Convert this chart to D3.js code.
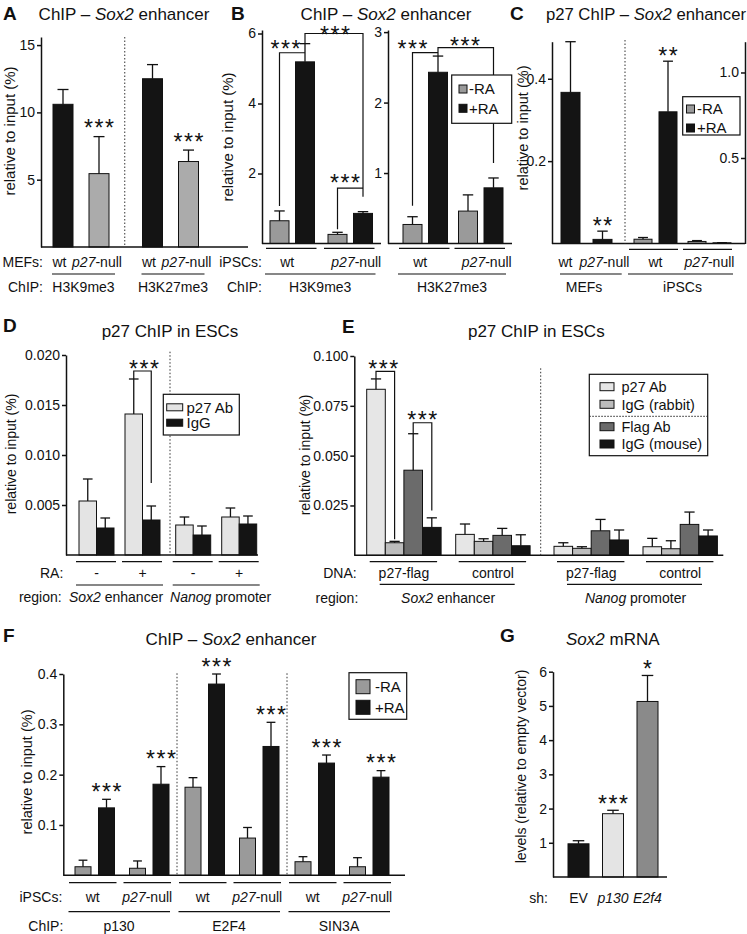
<!DOCTYPE html>
<html><head><meta charset="utf-8">
<script src="https://cdnjs.cloudflare.com/ajax/libs/d3/7.8.5/d3.min.js"></script>
<style>body{margin:0;background:#fff}</style>
</head><body>
<script>
// ================= DATA =================
// Panel A
const aGroups = ["H3K9me3", "H3K27me3"];
const aCells = ["wt", "p27-null"];
const aMean = [[10.6, 5.45], [12.5, 6.35]];
const aSD = [[1.1, 2.75], [1.05, 0.85]];
const aStars = [["", "***"], ["", "***"]];
const aTicks = [5, 10, 15];
// Panel B
const bChIP = ["H3K9me3", "H3K27me3"];
const bCells = ["wt", "p27-null"];
const bSeries = ["-RA", "+RA"];
const bK9Mean = [[0.65, 5.19], [0.26, 0.86]];
const bK9SD = [[0.28, 0.52], [0.06, 0.05]];
const bK27Mean = [[0.27, 2.43], [0.46, 0.79]];
const bK27SD = [[0.11, 0.23], [0.23, 0.14]];
const bK9Ticks = [2, 4, 6];
const bK27Ticks = [1, 2, 3];
// Panel C
const cMEFCells = ["wt", "p27-null"];
const cMEFMean = [0.367, 0.01];
const cMEFSD = [0.123, 0.02];
const cMEFStars = ["", "**"];
const cIPSCCells = ["wt", "p27-null"];
const cSeries = ["-RA", "+RA"];
const cIPSCMean = [[0.025, 0.77], [0.012, 0.004]];
const cIPSCSD = [[0.01, 0.296], [0.005, 0.001]];
const cIPSCStars = [["", "**"], ["", ""]];
const cLeftTicks = [0.2, 0.4];
const cRightTicks = [0.5, 1.0];
// Panel D
const dRegions = ["Sox2 enhancer", "Nanog promoter"];
const dRA = ["-", "+"];
const dSeries = ["p27 Ab", "IgG"];
const dP27Mean = [0.0054, 0.0141, 0.0030, 0.0038];
const dP27SD = [0.0022, 0.0035, 0.0008, 0.0009];
const dIgGMean = [0.0027, 0.0035, 0.0020, 0.0031];
const dIgGSD = [0.0010, 0.0014, 0.0009, 0.0008];
const dTicks = [0.005, 0.010, 0.015, 0.020];
// Panel E
const eRegions = ["Sox2 enhancer", "Nanog promoter"];
const eDNA = ["p27-flag", "control"];
const eSeries = ["p27 Ab", "IgG (rabbit)", "Flag Ab", "IgG (mouse)"];
const eP27Mean = [0.0833, 0.0105, 0.0045, 0.0043];
const eP27SD = [0.0052, 0.0052, 0.0018, 0.0042];
const eRabbitMean = [0.0063, 0.0070, 0.0035, 0.0033];
const eRabbitSD = [0.0007, 0.0013, 0.0008, 0.0040];
const eFlagMean = [0.0427, 0.0100, 0.0123, 0.0155];
const eFlagSD = [0.0183, 0.0035, 0.0057, 0.0062];
const eMouseMean = [0.0140, 0.0048, 0.0077, 0.0097];
const eMouseSD = [0.0048, 0.0055, 0.0050, 0.0030];
const eTicks = [0.025, 0.050, 0.075, 0.100];
// Panel F
const fChIP = ["p130", "E2F4", "SIN3A"];
const fCells = ["wt", "p27-null"];
const fSeries = ["-RA", "+RA"];
const fMinusMean = [0.017, 0.014, 0.175, 0.074, 0.027, 0.017];
const fMinusSD = [0.013, 0.0145, 0.019, 0.021, 0.010, 0.018];
const fPlusMean = [0.134, 0.181, 0.380, 0.256, 0.223, 0.195];
const fPlusSD = [0.017, 0.035, 0.020, 0.048, 0.016, 0.013];
const fPlusStars = ["***", "***", "***", "***", "***", "***"];
const fTicks = [0.1, 0.2, 0.3, 0.4];
// Panel G
const gShRNA = ["EV", "p130", "E2f4"];
const gMean = [0.97, 1.85, 5.13];
const gSD = [0.09, 0.10, 0.76];
const gStars = ["", "***", "*"];
const gTicks = [1, 2, 3, 4, 5, 6];

// ================= HELPERS =================
const FAM = '"Liberation Sans", Arial, Helvetica, sans-serif';
const INK = "#111";
const BLACK = "#141414", GRAY = "#9a9a9a", LIGHT = "#e4e4e4";
const ITAL = /(Sox2|Nanog|p27(?=-null))/;
const svg = d3.select("body").append("svg").attr("width", 747).attr("height", 934)
  .style("font-family", FAM).style("background", "#fff");

function band(domain, start, step, width) {
  const n = domain.length;
  return d3.scaleBand().domain(domain).range([start, start + step * (n - 1) + width])
    .paddingInner(1 - width / step).paddingOuter(0);
}
function rich(g, x, y, str, o = {}) {
  const t = g.append("text").attr("x", x).attr("y", y)
    .attr("text-anchor", o.anchor || "middle").attr("font-size", o.size || 14).attr("fill", INK);
  if (o.weight) t.attr("font-weight", o.weight);
  const re = o.re === undefined ? ITAL : o.re;
  const parts = re ? str.split(re) : [str];
  parts.forEach((p, i) => {
    if (!p) return;
    const s = t.append("tspan").text(p);
    if (i % 2 === 1 || o.italic) s.attr("font-style", "italic");
  });
  return t;
}
function label(g, x, cy, str, o = {}) { return rich(g, x, cy + 0.36 * (o.size || 14), str, o); }
function yLabel(g, cx, cy, str, size = 14) {
  g.append("text").attr("transform", `translate(${cx + 0.36 * size},${cy}) rotate(-90)`)
    .attr("text-anchor", "middle").attr("font-size", size).attr("fill", INK).text(str);
}
function letter(g, x, y, s) {
  g.append("text").attr("x", x).attr("y", y).attr("font-size", 19).attr("font-weight", "bold")
    .attr("fill", INK).text(s);
}
function star(g, cx, cy, s) {
  g.append("text").attr("x", cx + 0.75).attr("y", cy + 13.5).attr("text-anchor", "middle")
    .attr("font-size", 23).attr("letter-spacing", 1.5).attr("fill", INK).text(s);
}
function axis(g, x, y, ticks, fmt) {
  const a = g.append("g").attr("transform", `translate(${x},0)`)
    .call(d3.axisLeft(y).tickValues(ticks).tickFormat(fmt).tickSizeInner(4).tickSizeOuter(0).tickPadding(2));
  a.attr("font-family", FAM).attr("font-size", 14);
  a.select(".domain").attr("stroke", INK).attr("stroke-width", 1.5);
  a.selectAll(".tick line").attr("stroke", INK).attr("stroke-width", 1.5);
  a.selectAll(".tick text").attr("fill", INK);
}
function hline(g, x1, x2, y, w = 1.2) {
  g.append("line").attr("x1", x1).attr("x2", x2).attr("y1", y).attr("y2", y)
    .attr("stroke", INK).attr("stroke-width", w);
}
function dotted(g, x, y1, y2) {
  g.append("line").attr("x1", x).attr("x2", x).attr("y1", y1).attr("y2", y2)
    .attr("stroke", "#333").attr("stroke-width", 1).attr("stroke-dasharray", "1.5,2");
}
function path(g, d) {
  g.append("path").attr("d", d).attr("fill", "none").attr("stroke", INK).attr("stroke-width", 1.2);
}
function drawBars(g, items, y) {
  g.append("g").selectAll("rect").data(items).join("rect")
    .attr("x", d => d.x).attr("y", d => y(d.v)).attr("width", d => d.w)
    .attr("height", d => Math.max(0.5, y(0) - y(d.v)))
    .attr("fill", d => d.fill).attr("stroke", INK).attr("stroke-width", 1);
  items.forEach(d => {
    const cx = d.x + d.w / 2, top = y(d.v + d.e), cw = d.w * 0.55;
    g.append("line").attr("x1", cx).attr("x2", cx).attr("y1", y(d.v)).attr("y2", top)
      .attr("stroke", INK).attr("stroke-width", 1.3);
    g.append("line").attr("x1", cx - cw / 2).attr("x2", cx + cw / 2).attr("y1", top).attr("y2", top)
      .attr("stroke", INK).attr("stroke-width", 1.3);
    if (d.star) star(g, cx, top - (d.gap || 12), d.star);
  });
}
function legend(g, box, entries, sw, tx, size = 15) {
  g.append("rect").attr("x", box[0]).attr("y", box[1]).attr("width", box[2] - box[0])
    .attr("height", box[3] - box[1]).attr("fill", "#fff").attr("stroke", INK).attr("stroke-width", 1.2);
  entries.forEach(e => {
    g.append("rect").attr("x", sw[0]).attr("y", e.y - sw[2] / 2).attr("width", sw[1]).attr("height", sw[2])
      .attr("fill", e.fill).attr("stroke", INK).attr("stroke-width", 1);
    label(g, tx, e.y, e.label, { anchor: "start", size });
  });
}

// ================= PANEL A =================
{
  const g = svg.append("g");
  const y = d3.scaleLinear().domain([0, 15.6]).range([247, 37]);
  const gx = band(aGroups, 53, 89.5, 56), sx = band(aCells, 0, 36, 20);
  const cols = [BLACK, "#ababab"];
  const items = [];
  aGroups.forEach((gr, gi) => aCells.forEach((c, ci) => items.push({
    x: gx(gr) + sx(c), w: sx.bandwidth(), v: aMean[gi][ci], e: aSD[gi][ci], fill: cols[ci], star: aStars[gi][ci], gap: 14 })));
  drawBars(g, items, y);
  axis(g, 41, y, aTicks, d3.format("d"));
  hline(g, 41, 248, y(0), 1.5);
  dotted(g, (gx(aGroups[0]) + gx.bandwidth() + gx(aGroups[1])) / 2 - 1, 37, y(0));
  letter(g, 3, 20, "A");
  rich(g, 124, 20, "ChIP – Sox2 enhancer", { size: 17 });
  yLabel(g, 10, 131, "relative to input (%)", 15);
  label(g, 43, 262, "MEFs:", { anchor: "end" });
  label(g, 43, 287, "ChIP:", { anchor: "end" });
  const off = [-3.5, -2];
  aGroups.forEach(gr => {
    aCells.forEach((c, ci) => label(g, gx(gr) + sx(c) + sx.bandwidth() / 2 + off[ci], 262, c));
    const x1 = gx(gr) - 1, x2 = gx(gr) + gx.bandwidth() + 6;
    hline(g, x1, x2, 274);
    label(g, (x1 + x2) / 2, 287, gr);
  });
}

// ================= PANEL B =================
{
  const g = svg.append("g");
  const specs = [
    { ax: 262, end: 381, y: d3.scaleLinear().domain([0, 6.1]).range([243.5, 30]), start: 270, gstep: 58,
      mean: bK9Mean, sd: bK9SD, ticks: bK9Ticks },
    { ax: 388, end: 512, y: d3.scaleLinear().domain([0, 3.03]).range([243.5, 30]), start: 403, gstep: 55.5,
      mean: bK27Mean, sd: bK27SD, ticks: bK27Ticks }
  ];
  const cols = [GRAY, BLACK];
  const centers = [];
  specs.forEach((s, k) => {
    const gx = band(bCells, s.start, s.gstep, 44.5), sx = band(bSeries, 0, 25.5, 19);
    const items = [];
    bCells.forEach((c, ci) => bSeries.forEach((se, si) => items.push({
      x: gx(c) + sx(se), w: sx.bandwidth(), v: s.mean[ci][si], e: s.sd[ci][si], fill: cols[si] })));
    drawBars(g, items, s.y);
    axis(g, s.ax, s.y, s.ticks, d3.format("d"));
    hline(g, s.ax, s.end, s.y(0), 1.5);
    const cx = (c, se) => gx(c) + sx(se) + sx.bandwidth() / 2;
    centers.push({ cx, y: s.y, s });
    const off = [-5, 6];
    bCells.forEach((c, ci) => {
      hline(g, gx(c) - 4, gx(c) + gx.bandwidth() + 2, 248.3);
      label(g, gx(c) + gx.bandwidth() / 2 + off[ci], 262, c);
    });
    const x1 = gx(bCells[0]) - 5, x2 = gx(bCells[1]) + gx.bandwidth() + 3;
    hline(g, x1, x2, 274);
    label(g, (x1 + x2) / 2, 287, bChIP[k]);
  });
  {
    const { cx, y, s } = centers[0];
    path(g, `M${cx("wt", "-RA")},${y(s.mean[0][0] + s.sd[0][0]) - 5}V${y(5.45)}H${cx("wt", "+RA")}`);
    star(g, cx("wt", "-RA") + 6, 43, "***");
    path(g, `M${cx("wt", "+RA")},${y(s.mean[0][1] + s.sd[0][1])}V${y(6.0)}H${cx("p27-null", "+RA")}V${y(s.mean[1][1] + s.sd[1][1]) - 15}`);
    star(g, 335, 29, "***");
    path(g, `M${cx("p27-null", "-RA")},${y(s.mean[1][0] + s.sd[1][0]) - 3}V${y(1.58)}H${cx("p27-null", "+RA")}`);
    star(g, 345, 177, "***");
  }
  {
    const { cx, y, s } = centers[1];
    path(g, `M${cx("wt", "-RA")},${y(s.mean[0][0] + s.sd[0][0]) - 11}V${y(2.71)}H${cx("wt", "+RA")}`);
    star(g, cx("wt", "-RA"), 43, "***");
    path(g, `M${cx("wt", "+RA")},${y(s.mean[0][1] + s.sd[0][1])}V${y(2.78)}H${cx("p27-null", "+RA")}V${y(s.mean[1][1] + s.sd[1][1]) - 15}`);
    star(g, 465, 40, "***");
  }
  legend(g, [451.7, 75, 511.7, 123.3], [{ label: bSeries[0], fill: GRAY, y: 89 }, { label: bSeries[1], fill: BLACK, y: 108.3 }],
    [459, 8, 8], 469, 15);
  letter(g, 231, 20, "B");
  rich(g, 386, 20, "ChIP – Sox2 enhancer", { size: 17 });
  yLabel(g, 227.5, 137, "relative to input (%)", 15);
  label(g, 262, 262, "iPSCs:", { anchor: "end" });
  label(g, 262, 287, "ChIP:", { anchor: "end" });
}

// ================= PANEL C =================
{
  const g = svg.append("g");
  const yL = d3.scaleLinear().domain([0, 0.49]).range([243.5, 41.7]);
  const yR = d3.scaleLinear().domain([0, 1.18]).range([243.5, 41.7]);
  const mx = band(cMEFCells, 561, 32, 19);
  drawBars(g, cMEFCells.map((c, i) => ({ x: mx(c), w: mx.bandwidth(), v: cMEFMean[i], e: cMEFSD[i], fill: BLACK, star: cMEFStars[i], gap: 11 })), yL);
  const gx = band(cIPSCCells, 634, 54, 43), sx = band(cSeries, 0, 25, 18);
  const cols = [GRAY, BLACK];
  const items = [];
  cIPSCCells.forEach((c, ci) => cSeries.forEach((se, si) => items.push({
    x: gx(c) + sx(se), w: sx.bandwidth(), v: cIPSCMean[ci][si], e: cIPSCSD[ci][si], fill: cols[si], star: cIPSCStars[ci][si], gap: 11 })));
  drawBars(g, items, yR);
  axis(g, 552, yL, cLeftTicks, d3.format(".1f"));
  axis(g, 745, yR, cRightTicks, d3.format(".1f"));
  hline(g, 552, 745, yL(0), 1.5);
  dotted(g, 625, 40, yL(0));
  legend(g, [682.7, 96.7, 740, 135], [{ label: cSeries[0], fill: GRAY, y: 109 }, { label: cSeries[1], fill: BLACK, y: 128 }],
    [686.5, 8, 8], 697, 15);
  const moff = [-5, 2];
  cMEFCells.forEach((c, i) => label(g, mx(c) + mx.bandwidth() / 2 + moff[i], 262, c));
  hline(g, 560, 621.7, 274);
  label(g, 584, 287, "MEFs");
  cIPSCCells.forEach(c => {
    hline(g, gx(c) - 5, gx(c) + gx.bandwidth() + 1, 249.3);
    label(g, gx(c) + gx.bandwidth() / 2, 262, c);
  });
  hline(g, gx(cIPSCCells[0]) - 6, gx(cIPSCCells[1]) + gx.bandwidth() + 2, 274);
  label(g, (gx(cIPSCCells[0]) + gx(cIPSCCells[1]) + gx.bandwidth()) / 2, 287, "iPSCs");
  letter(g, 510, 20, "C");
  rich(g, 746, 20, "p27 ChIP – Sox2 enhancer", { size: 16.7, anchor: "end" });
  yLabel(g, 523, 128, "relative to input (%)", 14.5);
}

// ================= PANEL D =================
{
  const g = svg.append("g");
  const y = d3.scaleLinear().domain([0, 0.02]).range([555, 355]);
  const rx = band(dRegions, 79, 96.7, 84), gx = band(dRA, 0, 46, 35), sx = band(dSeries, 0, 17.5, 17.5);
  const means = [dP27Mean, dIgGMean], sds = [dP27SD, dIgGSD], cols = [LIGHT, BLACK];
  const items = [];
  const cx = (ri, gi, si) => rx(dRegions[ri]) + gx(dRA[gi]) + sx(dSeries[si]) + sx.bandwidth() / 2;
  dRegions.forEach((r, ri) => dRA.forEach((a, gi) => dSeries.forEach((s, si) => {
    const k = ri * 2 + gi;
    items.push({ x: rx(r) + gx(a) + sx(s), w: sx.bandwidth(), v: means[si][k], e: sds[si][k], fill: cols[si] });
  })));
  drawBars(g, items, y);
  axis(g, 66, y, dTicks, d3.format(".3f"));
  hline(g, 66, 258, y(0), 1.5);
  dotted(g, 170, 351.7, y(0));
  path(g, `M${cx(0, 1, 0)},${y(dP27Mean[1] + dP27SD[1])}V${y(0.0184)}H${cx(0, 1, 1)}V${y(0.0072)}`);
  star(g, 144, 363.3, "***");
  legend(g, [163.3, 394.3, 239.3, 435], [{ label: dSeries[0], fill: LIGHT, y: 407.3 }, { label: dSeries[1], fill: BLACK, y: 422.7 }],
    [166.7, 16, 7], 186.5, 15);
  letter(g, 3, 332, "D");
  rich(g, 170, 336.7, "p27 ChIP in ESCs", { size: 17 });
  yLabel(g, 11, 454, "relative to input (%)", 14);
  label(g, 63.3, 573.3, "RA:", { anchor: "end" });
  label(g, 61.7, 597, "region:", { anchor: "end" });
  const roff = [-5, 3];
  dRegions.forEach((r, ri) => {
    dRA.forEach(a => {
      const x0 = rx(r) + gx(a);
      hline(g, x0 - 3, x0 + gx.bandwidth() + 2, 561.7);
      label(g, x0 + gx.bandwidth() / 2, 573.3, a);
    });
    hline(g, rx(r) - 3, rx(r) + rx.bandwidth(), 585);
    label(g, rx(r) + rx.bandwidth() / 2 + roff[ri], 597, r);
  });
}

// ================= PANEL E =================
{
  const g = svg.append("g");
  const y = d3.scaleLinear().domain([0, 0.1]).range([555.3, 356]);
  const rx = band(eRegions, 366.7, 187.3, 163), gx = band(eDNA, 0, 89, 74.4), sx = band(eSeries, 0, 18.6, 18.6);
  const means = [eP27Mean, eRabbitMean, eFlagMean, eMouseMean];
  const sds = [eP27SD, eRabbitSD, eFlagSD, eMouseSD];
  const cols = ["#e6e6e6", "#bcbcbc", "#6b6b6b", BLACK];
  const items = [];
  const cx = (ri, gi, si) => rx(eRegions[ri]) + gx(eDNA[gi]) + sx(eSeries[si]) + sx.bandwidth() / 2;
  eRegions.forEach((r, ri) => eDNA.forEach((dn, gi) => eSeries.forEach((s, si) => {
    const k = ri * 2 + gi;
    items.push({ x: rx(r) + gx(dn) + sx(s), w: sx.bandwidth(), v: means[si][k], e: sds[si][k], fill: cols[si] });
  })));
  drawBars(g, items, y);
  axis(g, 354.3, y, eTicks, d3.format(".3f"));
  hline(g, 354.3, 723.3, y(0), 1.5);
  dotted(g, 540.7, 368.3, y(0));
  path(g, `M${cx(0, 0, 0)},${y(eP27Mean[0] + eP27SD[0])}V${y(0.0923)}H${cx(0, 0, 1)}V${y(0.008)}`);
  star(g, 383.3, 363.3, "***");
  path(g, `M${cx(0, 0, 2)},${y(eFlagMean[0] + eFlagSD[0])}V${y(0.0665)}H${cx(0, 0, 3)}V${y(0.0225)}`);
  star(g, 422.3, 414.3, "***");
  const lg = g.append("g");
  legend(lg, [589.3, 374.3, 707.7, 455.7], [
    { label: eSeries[0], fill: cols[0], y: 386.7 }, { label: eSeries[1], fill: cols[1], y: 404.3 },
    { label: eSeries[2], fill: cols[2], y: 426.7 }, { label: eSeries[3], fill: cols[3], y: 444 }],
    [600, 14, 8], 621.5, 14.5);
  lg.append("line").attr("x1", 589.3).attr("x2", 707.7).attr("y1", 416.3).attr("y2", 416.3)
    .attr("stroke", "#222").attr("stroke-width", 1).attr("stroke-dasharray", "1.5,1.5");
  letter(g, 342, 333, "E");
  rich(g, 536.3, 336.7, "p27 ChIP in ESCs", { size: 17 });
  yLabel(g, 305, 455, "relative to input (%)", 14);
  label(g, 356.7, 572.7, "DNA:", { anchor: "end" });
  label(g, 358.3, 598, "region:", { anchor: "end" });
  eRegions.forEach(r => {
    eDNA.forEach(dn => {
      const x0 = rx(r) + gx(dn);
      hline(g, x0 + 3, x0 + gx.bandwidth() - 4, 561.7);
      label(g, x0 + gx.bandwidth() / 2, 572.7, dn);
    });
    hline(g, rx(r) + 13, rx(r) + rx.bandwidth() - 15, 584.3);
    label(g, rx(r) + rx.bandwidth() / 2, 598, r);
  });
}

// ================= PANEL F =================
{
  const g = svg.append("g");
  const y = d3.scaleLinear().domain([0, 0.4]).range([875.3, 674]);
  const rx = band(fChIP, 75, 110, 94), gx = band(fCells, 0, 54.5, 39.5), sx = band(fSeries, 0, 23.5, 16);
  const cols = [GRAY, BLACK];
  const items = [];
  fChIP.forEach((r, ri) => fCells.forEach((c, gi) => {
    const k = ri * 2 + gi, x0 = rx(r) + gx(c);
    items.push({ x: x0 + sx("-RA"), w: sx.bandwidth(), v: fMinusMean[k], e: fMinusSD[k], fill: cols[0] });
    items.push({ x: x0 + sx("+RA"), w: sx.bandwidth(), v: fPlusMean[k], e: fPlusSD[k], fill: cols[1], star: fPlusStars[k], gap: 13 });
  }));
  drawBars(g, items, y);
  axis(g, 63.3, y, fTicks, d3.format(".1f"));
  hline(g, 63.3, 405, y(0), 1.5);
  for (let i = 1; i < fChIP.length; i++) {
    dotted(g, (rx(fChIP[i - 1]) + rx.bandwidth() + rx(fChIP[i])) / 2, 673.3, y(0));
  }
  legend(g, [349, 672.7, 406.7, 719.3], [{ label: fSeries[0], fill: GRAY, y: 686.7 }, { label: fSeries[1], fill: BLACK, y: 707.3 }],
    [356, 14, 14], 375, 15);
  letter(g, 3, 642, "F");
  rich(g, 231, 645, "ChIP – Sox2 enhancer", { size: 17 });
  yLabel(g, 27, 772, "relative to input (%)", 14.5);
  label(g, 62.3, 896.7, "iPSCs:", { anchor: "end" });
  label(g, 63.3, 926, "ChIP:", { anchor: "end" });
  fChIP.forEach(r => {
    fCells.forEach(c => {
      const x0 = rx(r) + gx(c);
      hline(g, x0 - 6, x0 + gx.bandwidth() + 2, 882.7);
      label(g, x0 + gx.bandwidth() / 2 - 2, 896.7, c);
    });
    hline(g, rx(r) - 6.5, rx(r) + rx.bandwidth() + 1, 911.7);
    label(g, rx(r) + rx.bandwidth() / 2 - 3, 926, r);
  });
}

// ================= PANEL G =================
{
  const g = svg.append("g");
  const y = d3.scaleLinear().domain([0, 6]).range([877, 671.7]);
  const x = band(gShRNA, 568, 34.5, 21);
  const cols = [BLACK, LIGHT, "#8a8a8a"];
  drawBars(g, gShRNA.map((s, i) => ({ x: x(s), w: x.bandwidth(), v: gMean[i], e: gSD[i], fill: cols[i], star: gStars[i], gap: 12 })), y);
  axis(g, 553, y, gTicks, d3.format("d"));
  hline(g, 553, 667, y(0), 1.5);
  letter(g, 500, 642, "G");
  rich(g, 612.8, 645, "Sox2 mRNA", { size: 17 });
  yLabel(g, 521, 766.5, "levels (relative to empty vector)", 14);
  label(g, 548, 897.7, "sh:", { anchor: "end" });
  gShRNA.forEach((s, i) => label(g, x(s) + x.bandwidth() / 2, 897.7, s, { re: null, italic: i > 0 }));
}
</script>
</body></html>
